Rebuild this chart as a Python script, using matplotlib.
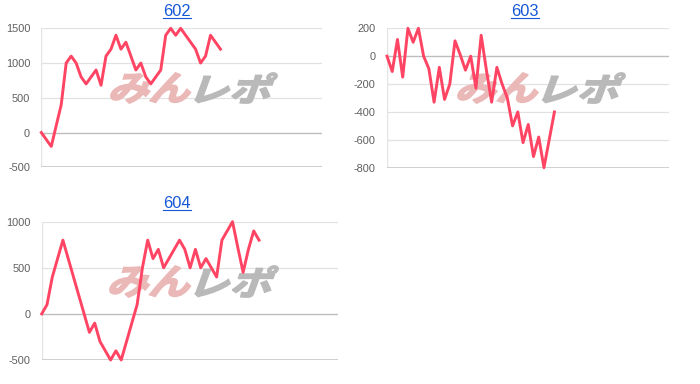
import matplotlib
matplotlib.use('Agg')
import matplotlib.pyplot as plt
from matplotlib.textpath import TextPath
from matplotlib.font_manager import FontProperties
from matplotlib.patches import PathPatch
from matplotlib.transforms import Affine2D, IdentityTransform
from matplotlib.lines import Line2D

plt.rcParams['font.family'] = ['Liberation Sans', 'DejaVu Sans']
plt.rcParams['axes.unicode_minus'] = False

# ---- data ----
titles = ["602", "603", "604"]
s602 = [0, -100, -200, 100, 400, 1000, 1100, 1000, 800, 700, 800, 900, 680,
        1100, 1200, 1400, 1200, 1300, 1100, 900, 1000, 800, 700, 800, 900,
        1400, 1500, 1400, 1500, 1400, 1300, 1200, 1000, 1100, 1400, 1300, 1200]
s603 = [0, -110, 120, -150, 200, 100, 200, 0, -90, -330, -80, -310, -200,
        110, 10, -100, 0, -230, 150, -100, -330, -80, -200, -300, -500, -400,
        -620, -490, -720, -580, -800, -600, -400]
s604 = [0, 100, 400, 600, 800, 600, 400, 200, 0, -200, -100, -300, -400, -500,
        -400, -500, -300, -100, 100, 500, 800, 600, 700, 500, 600, 700, 800,
        700, 500, 700, 500, 600, 500, 400, 800, 900, 1000, 720, 450, 700, 900, 800]
yticks602 = [-500, 0, 500, 1000, 1500]
yticks603 = [-800, -600, -400, -200, 0, 200]
yticks604 = [-500, 0, 500, 1000]

W, H = 700, 384
LINE = '#ff4563'
fig = plt.figure(figsize=(W / 100, H / 100), dpi=100)

panels = [
    # series, ticks, (left, top, right, bottom) px, xmax, title pos, logo box
    (s602, yticks602, (41.3, 28.3, 322, 167.3), 56.4, (177, 16), (111, 73, 277, 103)),
    (s603, yticks603, (387, 28.3, 669, 167.7), 53.9, (525, 16), (458, 73, 625, 103)),
    (s604, yticks604, (41.7, 221.7, 338, 360), 55.9, (177, 208.3), (110, 266, 278, 297)),
]

fp_logo = FontProperties(family='Noto Sans CJK JP', weight='bold')


def logo(ax, box):
    l, t, r, b = box
    split = l + (r - l) * 0.49
    parts = [("みん", '#ebb8b8', l, split - 2), ("レポ", '#b9b9b9', split + 3, r)]
    for txt, col, x0, x1 in parts:
        tp = TextPath((0, 0), txt, size=1, prop=fp_logo)
        sk = Affine2D().skew_deg(16, 0)
        p2 = sk.transform_path(tp)
        ext = p2.get_extents()
        sx = (x1 - x0) / ext.width
        sy = (b - t) / ext.height
        tr = (sk + Affine2D().translate(-ext.x0, -ext.y0).scale(sx, sy)
              .translate(x0, H - b))
        patch = PathPatch(tr.transform_path(tp), facecolor=col, edgecolor=col,
                          lw=1.3, transform=IdentityTransform(), zorder=1.5)
        patch.set_clip_on(False)
        ax.add_artist(patch)


axes = []
for (series, ticks, (l, t, r, b), xmax, tpos, lbox) in panels:
    ax = fig.add_axes([l / W, 1 - b / H, (r - l) / W, (b - t) / H])
    axes.append(ax)
    ax.set_xlim(0, xmax)
    ax.set_ylim(ticks[0], ticks[-1])
    ax.set_yticks(ticks)
    ax.set_xticks([])
    for sp in ax.spines.values():
        sp.set_visible(False)
    ax.axvline(0, color='#e4e4e4', lw=1.0, zorder=1)
    for tv in ticks:
        if tv == 0:
            c, w = '#bdbdbd', 1.0
        elif tv == ticks[0]:
            c, w = '#cccccc', 1.3
        else:
            c, w = '#e2e2e2', 0.9
        ax.axhline(tv, color=c, lw=w, zorder=1)
    ax.tick_params(axis='y', length=0, pad=8, labelsize=7.9, labelcolor='#5f5f5f')
    logo(ax, lbox)
    ax.plot(range(len(series)), series, color=LINE, lw=2.1, zorder=3,
            solid_joinstyle='round', clip_on=False)

title_artists = []
for (series, ticks, box, xmax, (tx, ty), lbox), name in zip(panels, titles):
    txt = fig.text(tx / W, 1 - ty / H, name, ha='center', va='baseline',
                   color='#1558d6', fontsize=11.8)
    title_artists.append((txt, ty))

fig.canvas.draw()
for txt, ty in title_artists:
    bb = txt.get_window_extent()
    y = H - ty - 1.8
    fig.add_artist(Line2D([bb.x0, bb.x1], [y, y], transform=IdentityTransform(),
                          color='#1558d6', lw=0.8))

fig.savefig('out.png', dpi=100)
